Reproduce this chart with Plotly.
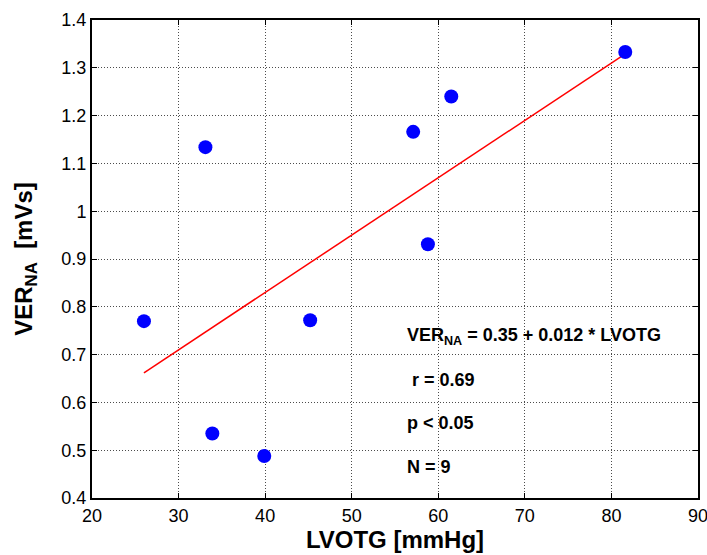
import plotly.graph_objects as go

# LVOTG [mmHg] and VER_NA [mVs] per patient
lvotg = [26.0, 33.1, 33.9, 39.9, 45.2, 57.1, 58.8, 61.5, 81.6]
ver_na = [0.770, 1.134, 0.535, 0.488, 0.772, 1.166, 0.931, 1.240, 1.333]

# Regression line: VER_NA = 0.35 + 0.012 * LVOTG
intercept = 0.35
slope = 0.012
fit_x = [min(lvotg), max(lvotg)]
fit_y = [intercept + slope * v for v in fit_x]

stats_lines = [
    "VER<sub>NA</sub> = 0.35 + 0.012 * LVOTG",
    " r = 0.69",
    "p < 0.05",
    "N = 9",
]
stats_y = [0.7375, 0.647, 0.556, 0.4655]
stats_x = 56.1

x_ticks = [20, 30, 40, 50, 60, 70, 80, 90]
y_ticks = [0.4, 0.5, 0.6, 0.7, 0.8, 0.9, 1.0, 1.1, 1.2, 1.3, 1.4]
y_tick_text = ["0.4", "0.5", "0.6", "0.7", "0.8", "0.9", "1", "1.1", "1.2", "1.3", "1.4"]

fig = go.Figure()
fig.add_trace(go.Scatter(
    x=fit_x, y=fit_y, mode="lines",
    line=dict(color="#FF0000", width=1.5),
    showlegend=False, hoverinfo="skip",
))
fig.add_trace(go.Scatter(
    x=lvotg, y=ver_na, mode="markers",
    marker=dict(color="#0000FF", size=14, line=dict(width=0)),
    showlegend=False,
))

for txt, yy in zip(stats_lines, stats_y):
    fig.add_annotation(
        x=stats_x, y=yy, xref="x", yref="y",
        text=txt, showarrow=False,
        xanchor="left", yanchor="middle",
        font=dict(family="Arial", size=18, color="black", weight="bold"),
    )

axis_common = dict(
    showline=True, linecolor="black", linewidth=2, mirror="allticks",
    ticks="inside", ticklen=5, tickcolor="black", tickwidth=1,
    showgrid=True, gridcolor="rgba(0,0,0,0.7)", griddash="1px,2px", gridwidth=1,
    zeroline=False, automargin=False, ticklabeloverflow="allow",
    tickfont=dict(family="Arial", size=18, color="black"),
)

fig.update_xaxes(
    range=[20, 90], tickvals=x_ticks,
    title=dict(text="LVOTG [mmHg]", standoff=6,
               font=dict(family="Arial", size=24, color="black", weight="bold")),
    **axis_common,
)
fig.update_yaxes(
    range=[0.4, 1.4], tickvals=y_ticks, ticktext=y_tick_text,
    title=dict(text="VER<sub>NA</sub>  [mVs]", standoff=22,
               font=dict(family="Arial", size=24, color="black", weight="bold")),
    **axis_common,
)

fig.update_layout(
    width=707, height=555,
    margin=dict(l=92, r=9, t=20, b=57),
    paper_bgcolor="white", plot_bgcolor="white",
)

fig.write_html("out.html")
